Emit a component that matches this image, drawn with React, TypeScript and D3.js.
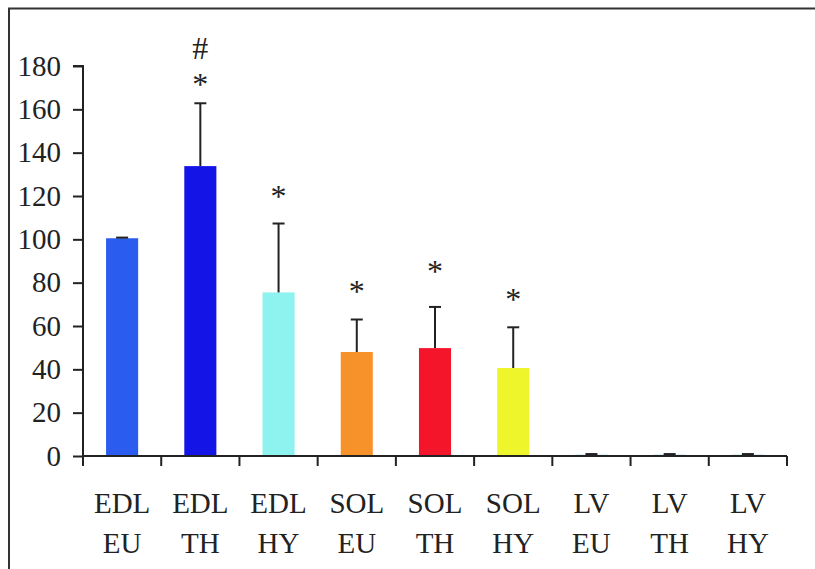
import React, { useEffect, useRef } from "react";
import * as d3 from "d3";

const muscles = ["EDL", "EDL", "EDL", "SOL", "SOL", "SOL", "LV", "LV", "LV"];
const groups = ["EU", "TH", "HY", "EU", "TH", "HY", "EU", "TH", "HY"];
const means = [100.5, 133.8, 75.5, 48, 49.8, 40.6, 0.6, 0.6, 0.6];
const errors = [0.3, 29, 31.8, 15, 19, 18.8, 0.3, 0.3, 0.3];
const colors = ["#2a5cf0", "#1414e6", "#8ef3ee", "#f7922a", "#f5152a", "#eef52a", "#8ecbe6", "#8ecbe6", "#8ecbe6"];
const yTicks = [0, 20, 40, 60, 80, 100, 120, 140, 160, 180];
// significance marks: category index, symbol, vertical centre in data units
const marks = [
  { i: 1, s: "*", v: 173.5 },
  { i: 1, s: "#", v: 188.5 },
  { i: 2, s: "*", v: 121.8 },
  { i: 3, s: "*", v: 78 },
  { i: 4, s: "*", v: 87.2 },
  { i: 5, s: "*", v: 74.3 },
];

const W = 815;
const H = 569;
const FONT = "'Liberation Serif', 'Times New Roman', serif";

export default function App() {
  const ref = useRef<SVGSVGElement>(null);

  useEffect(() => {
    const svg = d3.select(ref.current);
    svg.selectAll("*").remove();

    const keys = means.map((_, i) => String(i));
    const x = d3.scaleBand().domain(keys).range([83, 787]).paddingInner(0.59).paddingOuter(0.295);
    const y = d3.scaleLinear().domain([0, 180]).range([456, 66]);
    const step = x.step();

    // frame (top and left edges only)
    svg.append("path")
      .attr("d", `M9,${H} V8.5 H${W}`)
      .attr("fill", "none")
      .attr("stroke", "#333")
      .attr("stroke-width", 2);

    // bars
    svg.append("g")
      .selectAll("rect")
      .data(means)
      .join("rect")
      .attr("x", (_, i) => x(String(i))!)
      .attr("width", x.bandwidth())
      .attr("y", (d) => y(d))
      .attr("height", (d) => y(0) - y(d))
      .attr("fill", (_, i) => colors[i]);

    // error bars
    const eb = svg.append("g").attr("stroke", "#222").attr("stroke-width", 2);
    means.forEach((m, i) => {
      const cx = x(String(i))! + x.bandwidth() / 2;
      const top = y(m + errors[i]);
      eb.append("line").attr("x1", cx).attr("x2", cx).attr("y1", y(m)).attr("y2", top);
      eb.append("line").attr("x1", cx - 6).attr("x2", cx + 6).attr("y1", top).attr("y2", top);
    });

    // y axis
    const yAxis = svg.append("g")
      .attr("transform", "translate(83,0)")
      .call(d3.axisLeft(y).tickValues(yTicks).tickSize(10).tickPadding(12).tickFormat(d3.format("d")));
    yAxis.selectAll("path, line").attr("stroke", "#222").attr("stroke-width", 2);
    yAxis.select(".domain").attr("d", `M-10,${y(180)}H0V${y(0)}`);
    yAxis.selectAll("text")
      .attr("font-family", FONT)
      .attr("font-size", 29)
      .attr("fill", "#222");

    // x axis
    const xa = svg.append("g").attr("stroke", "#222").attr("stroke-width", 2);
    xa.append("line").attr("x1", 83).attr("x2", 787).attr("y1", y(0)).attr("y2", y(0));
    d3.range(keys.length + 1).forEach((k) => {
      const tx = 83 + k * step;
      xa.append("line").attr("x1", tx).attr("x2", tx).attr("y1", y(0)).attr("y2", y(0) + 10);
    });

    const labels = svg.append("g")
      .attr("font-family", FONT)
      .attr("font-size", 29)
      .attr("fill", "#222")
      .attr("text-anchor", "middle");
    keys.forEach((k, i) => {
      const cx = x(k)! + x.bandwidth() / 2;
      labels.append("text").attr("x", cx).attr("y", 513).text(muscles[i]);
      labels.append("text").attr("x", cx).attr("y", 553).text(groups[i]);
    });

    // significance marks
    svg.append("g")
      .attr("font-family", FONT)
      .attr("fill", "#222")
      .attr("text-anchor", "middle")
      .selectAll("text")
      .data(marks)
      .join("text")
      .attr("font-size", 32)
      .attr("x", (d) => x(String(d.i))! + x.bandwidth() / 2)
      .attr("y", (d) => y(d.v) + (d.s === "*" ? 15 : 11))
      .text((d) => d.s);
  }, []);

  return (
    <div style={{ position: "absolute", left: 0, top: 0 }}>
      <svg ref={ref} width={W} height={H} style={{ display: "block", background: "#fff" }} />
    </div>
  );
}
